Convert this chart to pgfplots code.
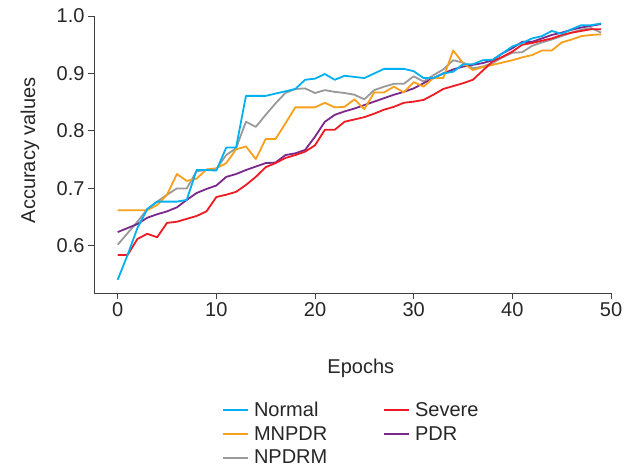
\documentclass[border=0pt]{standalone}
\usepackage{pgfplots}
\usepackage{pgfplotstable}
\pgfplotsset{compat=1.18}
\usepackage{fontspec}
\setmainfont{Liberation Sans}
\definecolor{cNormal}{RGB}{0,176,240}
\definecolor{cSevere}{RGB}{237,28,36}
\definecolor{cMNPDR}{RGB}{248,160,28}
\definecolor{cPDR}{RGB}{122,40,140}
\definecolor{cNPDRM}{RGB}{153,153,153}

\pgfplotstableread{
e normal severe mnpdr pdr npdrm
0 0.541 0.584 0.662 0.624 0.602
1 0.584 0.584 0.662 0.631 0.622
2 0.631 0.612 0.662 0.638 0.642
3 0.664 0.621 0.662 0.649 0.664
4 0.677 0.615 0.671 0.655 0.677
5 0.677 0.640 0.689 0.660 0.689
6 0.677 0.642 0.725 0.667 0.700
7 0.680 0.647 0.713 0.680 0.700
8 0.732 0.652 0.717 0.692 0.730
9 0.732 0.660 0.733 0.699 0.732
10 0.731 0.685 0.735 0.705 0.734
11 0.771 0.689 0.744 0.720 0.758
12 0.771 0.694 0.768 0.725 0.770
13 0.861 0.706 0.773 0.732 0.816
14 0.861 0.720 0.751 0.738 0.807
15 0.861 0.737 0.786 0.744 0.828
16 0.865 0.744 0.786 0.745 0.848
17 0.869 0.753 0.813 0.758 0.866
18 0.873 0.758 0.841 0.761 0.873
19 0.889 0.764 0.841 0.767 0.874
20 0.891 0.775 0.841 0.790 0.866
21 0.899 0.802 0.849 0.816 0.871
22 0.889 0.802 0.841 0.828 0.868
23 0.896 0.816 0.842 0.834 0.866
24 0.894 0.820 0.855 0.839 0.863
25 0.892 0.824 0.838 0.845 0.855
26 0.900 0.830 0.867 0.851 0.871
27 0.908 0.837 0.867 0.857 0.877
28 0.908 0.842 0.877 0.863 0.882
29 0.908 0.849 0.867 0.868 0.882
30 0.904 0.851 0.885 0.874 0.895
31 0.892 0.854 0.877 0.883 0.886
32 0.892 0.863 0.892 0.892 0.897
33 0.900 0.873 0.892 0.900 0.907
34 0.903 0.878 0.940 0.907 0.923
35 0.916 0.883 0.918 0.912 0.919
36 0.916 0.889 0.906 0.915 0.909
37 0.923 0.905 0.911 0.918 0.912
38 0.924 0.921 0.915 0.923 0.918
39 0.935 0.929 0.919 0.935 0.928
40 0.947 0.938 0.923 0.944 0.936
41 0.953 0.950 0.928 0.955 0.937
42 0.961 0.953 0.932 0.955 0.948
43 0.965 0.957 0.940 0.961 0.954
44 0.974 0.961 0.940 0.967 0.959
45 0.969 0.967 0.954 0.971 0.965
46 0.977 0.971 0.959 0.976 0.971
47 0.984 0.974 0.965 0.980 0.976
48 0.984 0.977 0.967 0.983 0.979
49 0.987 0.977 0.968 0.986 0.971
}\datatable

\begin{document}
\begin{tikzpicture}
\path[use as bounding box] (-94pt,-180pt) rectangle (541pt,293pt);
\begin{axis}[
  scale only axis, width=517pt, height=277pt,
  at={(0pt,0pt)}, anchor=south west,
  xmin=-2.4, xmax=50, ymin=0.518, ymax=1.0,
  axis x line*=bottom, axis y line*=left,
  axis line style={line width=0.9pt, black!75},
  tick align=outside, major tick length=6pt,
  tick style={line width=0.9pt, black!75},
  xtick={0,10,20,30,40,50}, ytick={0.6,0.7,0.8,0.9,1.0},
  y tick label style={/pgf/number format/fixed, /pgf/number format/fixed zerofill, /pgf/number format/precision=1},
  /pgf/number format/assume math mode=true,
  tick label style={font=\fontsize{20}{24}\selectfont, text=black!85},
  label style={font=\fontsize{20}{24}\selectfont, text=black!85},
  xlabel={Epochs}, ylabel={Accuracy values},
  xlabel style={at={(axis description cs:0.516,-0.292)}, anchor=base},
  ylabel style={at={(axis description cs:-0.1238,0.515)}, anchor=center},
  every axis plot/.append style={line width=1.8pt, line join=round},
  legend columns=2, reverse legend, legend cell align=left,
  legend image code/.code={\draw[#1] (0pt,0pt) -- (25pt,0pt);},
  legend style={at={(axis description cs:0.2476,-0.389)}, anchor=north west,
    draw=none, fill=none, inner sep=0pt, row sep=6.5pt,
    font=\fontsize{20}{24}\selectfont, text=black!85,
    nodes={inner sep=1pt},
    /tikz/every odd column/.append style={column sep=4pt},
    /tikz/every even column/.append style={column sep=55pt}},
]
\addplot[color=cNPDRM] table[x=e, y=npdrm] {\datatable};
\addlegendentry{NPDRM}
\addplot[color=cPDR] table[x=e, y=pdr] {\datatable};
\addlegendentry{PDR}
\addplot[color=cMNPDR] table[x=e, y=mnpdr] {\datatable};
\addlegendentry{MNPDR}
\addplot[color=cSevere] table[x=e, y=severe] {\datatable};
\addlegendentry{Severe}
\addplot[color=cNormal] table[x=e, y=normal] {\datatable};
\addlegendentry{Normal}
\end{axis}
\end{tikzpicture}
\end{document}
